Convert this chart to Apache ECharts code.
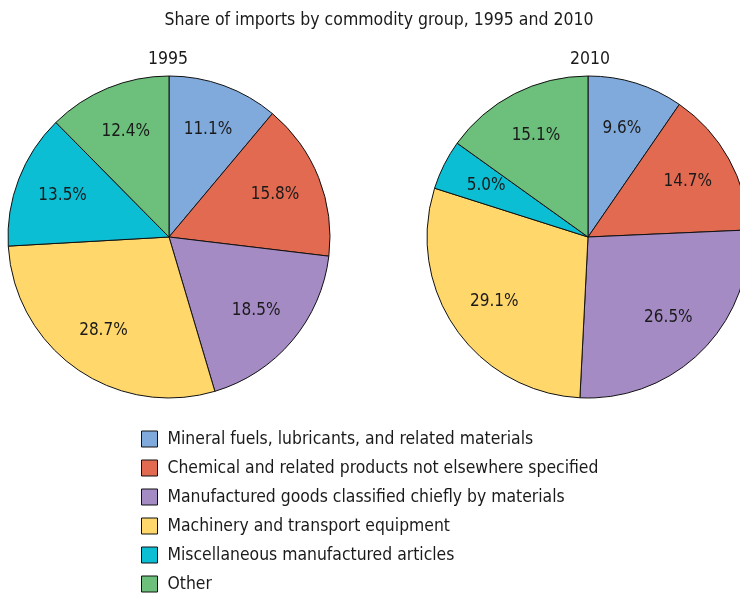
<!DOCTYPE html>
<html>
<head>
<meta charset="utf-8">
<script src="https://cdn.jsdelivr.net/npm/echarts@6/dist/echarts.min.js"></script>
<style>
html,body{margin:0;padding:0;background:#fff;}
#c{width:740px;height:593px;}
</style>
</head>
<body>
<div id="c"></div>
<script>
const categories = [
  "Mineral fuels, lubricants, and related materials",
  "Chemical and related products not elsewhere specified",
  "Manufactured goods classified chiefly by materials",
  "Machinery and transport equipment",
  "Miscellaneous manufactured articles",
  "Other"
];
const values1995 = [11.1, 15.8, 18.5, 28.7, 13.5, 12.4];
const values2010 = [9.6, 14.7, 26.5, 29.1, 5.0, 15.1];
const years = ["1995", "2010"];
const colors = ["#80AADC", "#E26A50", "#A58BC4", "#FFD76A", "#0CBED4", "#6CC07C"];

const FONT = '"Liberation Sans Narrow", "DejaVu Sans Condensed", "Roboto", sans-serif';
const TXT = '#1a1a1a';

function mk(vals) {
  return categories.map((n, i) => ({ name: n, value: vals[i] }));
}
const R = 161;
const centers = [[169, 237], [588, 237]];
const allVals = [values1995, values2010];

const series = [];
allVals.forEach((vals, k) => {
  series.push({
    type: 'pie',
    center: centers[k],
    radius: [0, R],
    startAngle: 90,
    clockwise: true,
    avoidLabelOverlap: false,
    data: mk(vals),
    label: { show: false },
    labelLine: { show: false },
    itemStyle: { borderColor: '#111', borderWidth: 1 },
    emphasis: { disabled: true },
    silent: true
  });
});
allVals.forEach((vals, k) => {
  series.push({
    type: 'pie',
    center: centers[k],
    radius: [Math.round(R * 0.38), R],
    startAngle: 90,
    clockwise: true,
    avoidLabelOverlap: false,
    data: mk(vals),
    itemStyle: { color: 'rgba(0,0,0,0)', borderWidth: 0 },
    label: {
      show: true, position: 'inside',
      formatter: p => p.value.toFixed(1) + '%',
      fontFamily: FONT, fontSize: 17, color: TXT
    },
    labelLine: { show: false },
    emphasis: { disabled: true },
    legendHoverLink: false,
    silent: true
  });
});

const chart = echarts.init(document.getElementById('c'), null, { renderer: 'canvas' });
chart.setOption({
  animation: false,
  color: colors,
  title: [
    { text: "Share of imports by commodity group, 1995 and 2010", left: 374, top: 6, textAlign: 'center',
      textStyle: { fontFamily: FONT, fontSize: 17.5, fontWeight: 'normal', color: TXT } },
    { text: years[0], left: 163, top: 45, textAlign: 'center',
      textStyle: { fontFamily: FONT, fontSize: 17.5, fontWeight: 'normal', color: TXT } },
    { text: years[1], left: 585, top: 45, textAlign: 'center',
      textStyle: { fontFamily: FONT, fontSize: 17.5, fontWeight: 'normal', color: TXT } }
  ],
  legend: {
    orient: 'vertical', left: 141, top: 430, padding: 0, height: 200,
    icon: 'rect', itemWidth: 16, itemHeight: 16, itemGap: 11,
    data: categories,
    itemStyle: { borderColor: '#111', borderWidth: 1 },
    textStyle: { fontFamily: FONT, fontSize: 17.4, color: TXT, lineHeight: 18, padding: [0, 0, 0, 5] },
    selectedMode: false
  },
  series: series
});
</script>
</body>
</html>
